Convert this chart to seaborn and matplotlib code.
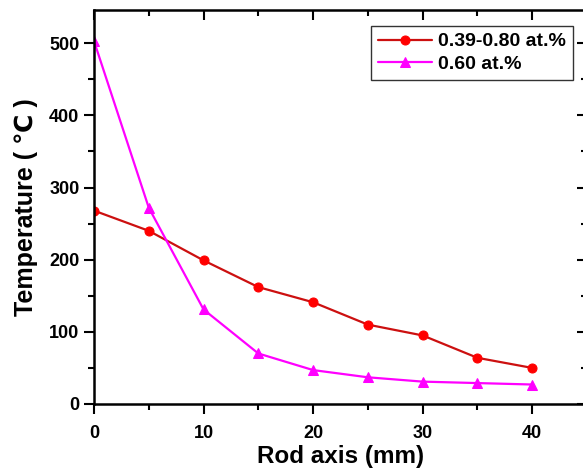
import numpy as np
import pandas as pd
import matplotlib
matplotlib.use("Agg")
import matplotlib.pyplot as plt
import seaborn as sns
from matplotlib.ticker import MultipleLocator

rod_axis = [0, 5, 10, 15, 20, 25, 30, 35, 40]
temp_039_080 = [268, 240, 199, 162, 141, 110, 95, 64, 50]
temp_060 = [503, 272, 131, 70, 47, 37, 31, 29, 27]
labels = ["0.39-0.80 at.%", "0.60 at.%"]

sns.set_style("ticks", {"axes.edgecolor": "black", "text.color": "black",
                        "xtick.color": "black", "ytick.color": "black",
                        "axes.labelcolor": "black"})
plt.rcParams['font.family'] = ['Liberation Sans', 'DejaVu Sans']
plt.rcParams['font.weight'] = 'bold'

df = pd.DataFrame({
    "x": rod_axis * 2,
    "y": temp_039_080 + temp_060,
    "series": [labels[0]] * len(rod_axis) + [labels[1]] * len(rod_axis),
})

fig = plt.figure(figsize=(5.83, 4.71), dpi=100)
ax = fig.add_axes([94 / 583, 1 - 404 / 471, (587 - 94) / 583, (404 - 10) / 471])

sns.lineplot(data=df[df.series == labels[0]], x="x", y="y", ax=ax,
             color="#cc1010", marker="o", markersize=6.5, markerfacecolor="#ff0000",
             markeredgecolor="#ff0000", linewidth=1.6, label=labels[0])
sns.lineplot(data=df[df.series == labels[1]], x="x", y="y", ax=ax,
             color="#ff00ff", marker="^", markersize=6.5, markerfacecolor="#ff00ff",
             markeredgecolor="#ff00ff", linewidth=1.6, label=labels[1])

ax.set_xlim(0, 45)
ax.set_ylim(0, 546)
ax.xaxis.set_major_locator(MultipleLocator(10))
ax.xaxis.set_minor_locator(MultipleLocator(5))
ax.yaxis.set_major_locator(MultipleLocator(100))
ax.yaxis.set_minor_locator(MultipleLocator(50))
ax.tick_params(which="both", top=True, right=True, width=1.5)
ax.tick_params(which="major", length=7, labelsize=13)
ax.tick_params(which="minor", length=4)
ax.tick_params(axis="x", which="major", pad=8)
for t in ax.xaxis.get_ticklines(minor=False)[1::2] + ax.xaxis.get_ticklines(minor=True)[1::2]:
    t.set_marker(3)
for t in ax.yaxis.get_ticklines(minor=False)[1::2] + ax.yaxis.get_ticklines(minor=True)[1::2]:
    t.set_marker(0)
for lbl in ax.get_xticklabels() + ax.get_yticklabels():
    lbl.set_fontweight("bold")
for s in ax.spines.values():
    s.set_linewidth(1.8)

ax.set_xlabel("Rod axis (mm)", fontsize=17.5, fontweight="bold", labelpad=2)
ax.set_ylabel("Temperature ( ℃ )", fontsize=18, fontweight="bold", labelpad=8)

leg = ax.legend(loc="upper right", bbox_to_anchor=((573 - 94) / (587 - 94), 1 - (26 - 10) / 394),
                fontsize=14, frameon=True, fancybox=False, edgecolor="black",
                handlelength=2.8, handletextpad=0.3, borderpad=0.35,
                borderaxespad=0, labelspacing=0.25)
leg.get_frame().set_linewidth(1.0)
for txt in leg.get_texts():
    txt.set_fontweight("bold")

fig.savefig("out.png", dpi=100)
